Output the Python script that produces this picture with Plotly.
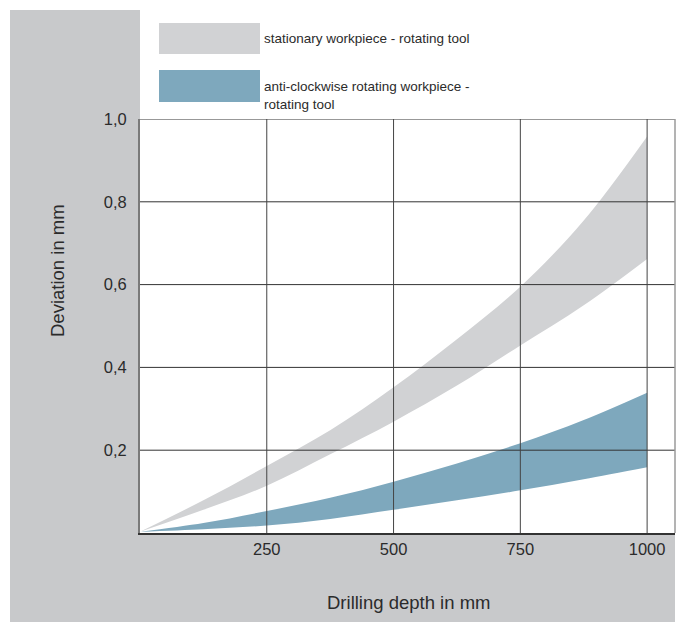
import plotly.graph_objects as go

# ---- data ----
depth_mm = [0, 125, 250, 375, 500, 625, 750, 875, 1000]
stationary_upper = [0.003, 0.079, 0.162, 0.248, 0.352, 0.468, 0.595, 0.755, 0.958]
stationary_lower = [0.003, 0.056, 0.114, 0.190, 0.269, 0.356, 0.453, 0.550, 0.662]
rotating_upper = [0.003, 0.024, 0.053, 0.085, 0.124, 0.168, 0.217, 0.273, 0.339]
rotating_lower = [0.003, 0.009, 0.018, 0.034, 0.056, 0.079, 0.103, 0.130, 0.159]

x_ticks = [250, 500, 750, 1000]
x_tick_labels = ["250", "500", "750", "1000"]
y_ticks = [0.2, 0.4, 0.6, 0.8, 1.0]
y_tick_labels = ["0,2", "0,4", "0,6", "0,8", "1,0"]

legend_labels = ["stationary workpiece - rotating tool",
                 "anti-clockwise rotating workpiece -<br>rotating tool"]

# ---- styling ----
W, H = 676, 622
L, R, T, B = 140, 1, 119, 89
PW, PH = W - L - R, H - T - B
GRAY_BAND = "#d1d2d4"
BLUE_BAND = "#7ea8bd"
BG_GRAY = "#c8c9cb"
TXT = "#2b2b2b"
FONT = "Liberation Sans, Arial, sans-serif"


def px(xp):
    return (xp - L) / PW


def py(yp):
    return (H - B - yp) / PH


fig = go.Figure()

fig.add_trace(go.Scatter(x=depth_mm, y=stationary_lower, mode="lines",
                         line=dict(width=0, shape="spline", color=GRAY_BAND),
                         hoverinfo="skip", showlegend=False))
fig.add_trace(go.Scatter(x=depth_mm, y=stationary_upper, mode="lines",
                         line=dict(width=0, shape="spline", color=GRAY_BAND),
                         fill="tonexty", fillcolor=GRAY_BAND,
                         name=legend_labels[0], showlegend=False))
fig.add_trace(go.Scatter(x=depth_mm, y=rotating_lower, mode="lines",
                         line=dict(width=0, shape="spline", color=BLUE_BAND),
                         hoverinfo="skip", showlegend=False))
fig.add_trace(go.Scatter(x=depth_mm, y=rotating_upper, mode="lines",
                         line=dict(width=0, shape="spline", color=BLUE_BAND),
                         fill="tonexty", fillcolor=BLUE_BAND,
                         name=legend_labels[1], showlegend=False))

shapes = []
# gray L-shaped background
shapes.append(dict(type="rect", xref="paper", yref="paper",
                   x0=px(10), x1=px(140), y0=py(H), y1=py(10),
                   fillcolor=BG_GRAY, line=dict(width=0), layer="below"))
shapes.append(dict(type="rect", xref="paper", yref="paper",
                   x0=px(140), x1=px(675), y0=py(H), y1=py(533),
                   fillcolor=BG_GRAY, line=dict(width=0), layer="below"))
# gridlines above the bands
for yv in y_ticks:
    shapes.append(dict(type="line", xref="paper", yref="y", x0=0, x1=1,
                       y0=yv, y1=yv, line=dict(color="#333333", width=1),
                       layer="above"))
for xv in x_ticks:
    shapes.append(dict(type="line", xref="x", yref="paper", x0=xv, x1=xv,
                       y0=0, y1=1, line=dict(color="#444444", width=1),
                       layer="above"))
# right border
shapes.append(dict(type="line", xref="paper", yref="paper", x0=1, x1=1,
                   y0=0, y1=1, line=dict(color="#9a9a9a", width=1.5),
                   layer="above"))
# legend swatches
shapes.append(dict(type="rect", xref="paper", yref="paper",
                   x0=px(159), x1=px(260), y0=py(54), y1=py(23),
                   fillcolor=GRAY_BAND, line=dict(width=0)))
shapes.append(dict(type="rect", xref="paper", yref="paper",
                   x0=px(159), x1=px(260), y0=py(102), y1=py(70),
                   fillcolor=BLUE_BAND, line=dict(width=0)))

annotations = [
    dict(xref="paper", yref="paper", x=px(262), y=py(38), text=legend_labels[0],
         showarrow=False, xanchor="left", yanchor="middle", align="left",
         font=dict(family=FONT, size=13.5, color=TXT)),
    dict(xref="paper", yref="paper", x=px(262), y=py(96), text=legend_labels[1],
         showarrow=False, xanchor="left", yanchor="middle", align="left",
         font=dict(family=FONT, size=13.5, color=TXT)),
    dict(xref="paper", yref="paper", x=px(408), y=py(602),
         text="Drilling depth in mm", showarrow=False,
         xanchor="center", yanchor="middle",
         font=dict(family=FONT, size=18.5, color=TXT)),
    dict(xref="paper", yref="paper", x=px(57), y=py(271),
         text="Deviation in mm", showarrow=False, textangle=-90,
         xanchor="center", yanchor="middle",
         font=dict(family=FONT, size=18.5, color=TXT)),
]

fig.update_layout(
    width=W, height=H,
    margin=dict(l=L, r=R, t=T, b=B, pad=0),
    paper_bgcolor="white", plot_bgcolor="white",
    showlegend=False,
    shapes=shapes, annotations=annotations,
    xaxis=dict(range=[0, 1055], tickvals=x_ticks, ticktext=x_tick_labels,
               showgrid=False, zeroline=False, showline=True,
               linecolor="#333333", linewidth=1.5, ticks="",
               ticklabelstandoff=0,
               tickfont=dict(family=FONT, size=16.5, color=TXT), fixedrange=True),
    yaxis=dict(range=[0, 1.0], tickvals=y_ticks, ticktext=y_tick_labels,
               showgrid=False, zeroline=False, showline=True,
               linecolor="#7a7a7a", linewidth=2, ticks="",
               ticklabelstandoff=8,
               tickfont=dict(family=FONT, size=16.5, color=TXT), fixedrange=True),
)

fig.write_html(
    "out.html",
    config={"displayModeBar": False},
    post_script="document.body.style.margin='0';document.body.style.overflow='hidden';",
)
